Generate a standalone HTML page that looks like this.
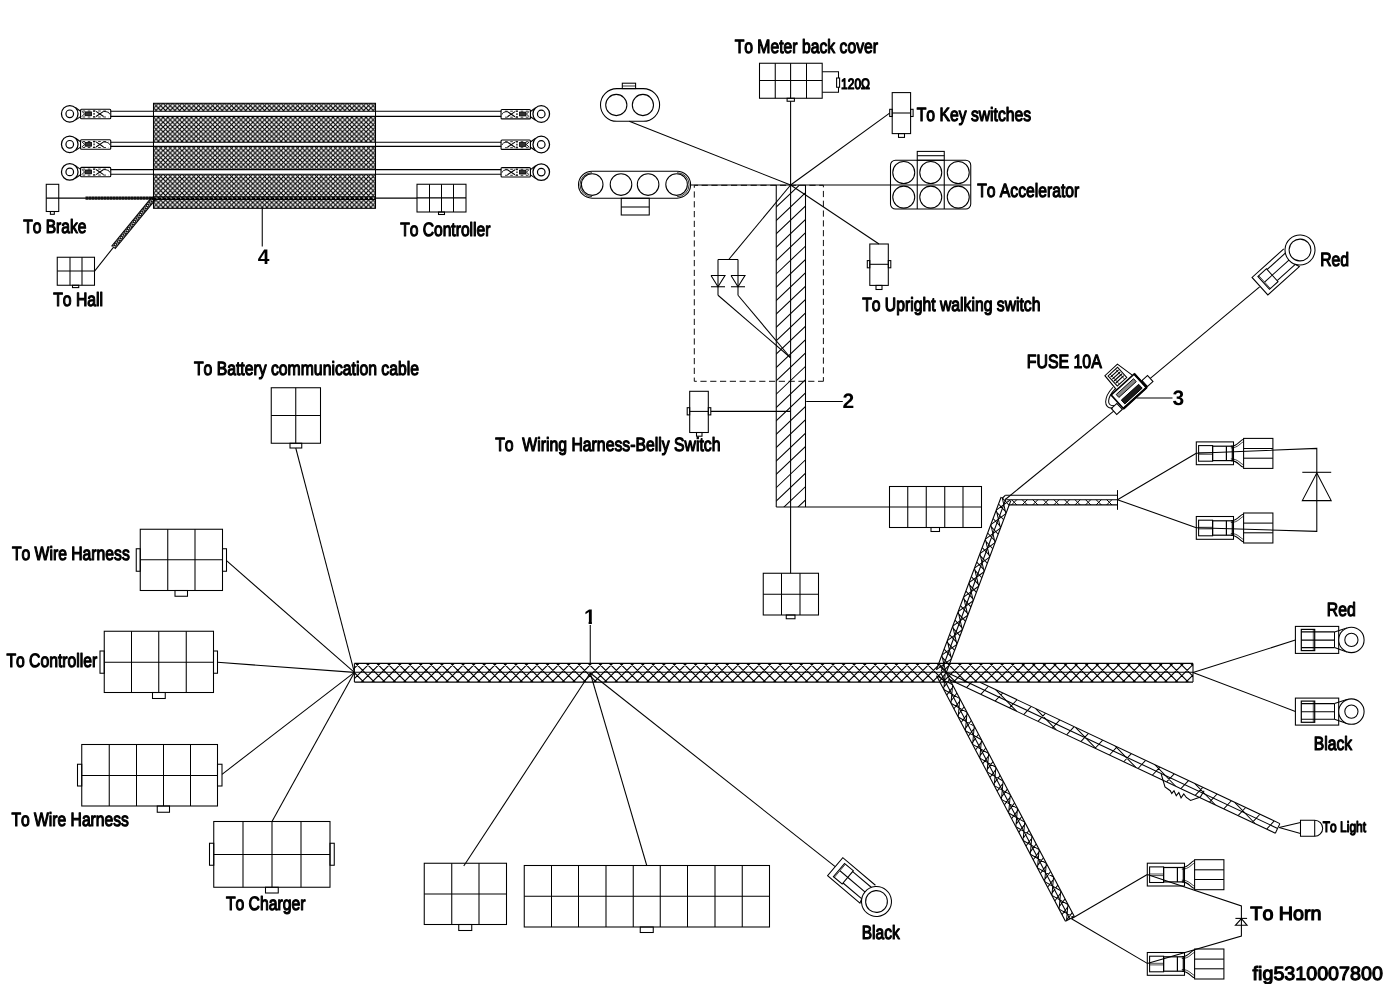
<!DOCTYPE html>
<html lang="en">
<head>
<meta charset="utf-8">
<title>Wiring harness diagram fig5310007800</title>
<style>
html,body{margin:0;padding:0;background:#fff;}
body{width:1399px;height:984px;overflow:hidden;}
svg{display:block;will-change:transform;}
text{font-family:"Liberation Sans",sans-serif;fill:#000;stroke-linejoin:round;font-kerning:none;text-rendering:geometricPrecision;white-space:pre;}
</style>
</head>
<body>
<svg width="1399" height="984" viewBox="0 0 1399 984" role="img" aria-label="Wiring harness diagram">
<defs>
<pattern id="xh" width="4.72" height="4.72" patternUnits="userSpaceOnUse" x="163.1" y="108.1"><path d="M-1 -1L5.72 5.72M-1 5.72L5.72 -1" stroke="#000" stroke-width="1.15" fill="none"/></pattern><clipPath id="c1"><rect x="0" y="-2.15" width="63.52" height="4.30"/></clipPath><clipPath id="barclip"><rect x="776.25" y="185" width="29.25" height="322"/></clipPath><clipPath id="c2"><rect x="354.40" y="663.40" width="838.60" height="18.70"/></clipPath><clipPath id="c3"><rect x="0" y="-5.15" width="184.46" height="10.30"/></clipPath><clipPath id="c4"><rect x="1008.5" y="499.7" width="109" height="5.2"/></clipPath><clipPath id="c5"><rect x="0" y="-5.00" width="277.19" height="10.00"/></clipPath><clipPath id="c6"><path d="M34 -5.30H365.47V5.30H4Z"/></clipPath><clipPath id="one"><path d="M0 -20H12V-3.4H7.9V1H4.6V-3.4H0Z"/></clipPath>
</defs>
<g fill="none" stroke="#000" stroke-width="1.06">
<rect x="153.50" y="103.30" width="222.00" height="105.00" fill="url(#xh)"/>
<rect x="154.00" y="111.25" width="221.00" height="5.15" fill="#fff" stroke="none"/>
<line x1="110.60" y1="111.25" x2="501.20" y2="111.25"/>
<line x1="110.60" y1="116.40" x2="501.20" y2="116.40"/>
<rect x="154.00" y="142.20" width="221.00" height="4.20" fill="#fff" stroke="none"/>
<line x1="110.60" y1="142.20" x2="501.20" y2="142.20"/>
<line x1="110.60" y1="146.40" x2="501.20" y2="146.40"/>
<rect x="154.00" y="169.60" width="221.00" height="4.70" fill="#fff" stroke="none"/>
<line x1="110.60" y1="169.60" x2="501.20" y2="169.60"/>
<line x1="110.60" y1="174.30" x2="501.20" y2="174.30"/>
<line x1="153.50" y1="196.90" x2="375.50" y2="196.90" stroke-width="1.0"/>
<line x1="153.50" y1="199.50" x2="375.50" y2="199.50" stroke-width="1.0"/>
<line x1="153.50" y1="198.20" x2="375.50" y2="198.20" stroke-width="1.4" stroke-dasharray="3 1.7"/>
<path d="M75.35 107.50 L80.55 111.30" stroke-width="1.1"/>
<path d="M75.35 120.10 L80.55 116.60" stroke-width="1.1"/>
<circle cx="69.75" cy="113.80" r="8.30" stroke-width="1.25" fill="#fff"/>
<circle cx="69.75" cy="113.80" r="3.80" stroke-width="1.2"/>
<rect x="80.55" y="109.30" width="30.20" height="9.40" rx="1" stroke-width="1.1"/>
<line x1="94.05" y1="110.30" x2="94.05" y2="117.70" stroke-width="1.2" stroke-dasharray="1.6 1.2"/>
<path d="M96.05 111.40 L103.55 116.50" stroke-width="1.1"/>
<path d="M96.05 116.50 L103.55 111.40" stroke-width="1.1"/>
<path d="M103.55 111.40Q109.25 111.60 109.75 114.30" stroke-width="0.9"/>
<rect x="85.05" y="111.90" width="6.50" height="3.80" stroke-width="0.8" fill="#333"/>
<path d="M81.75 111.20 L84.55 113.80 L81.75 116.60" stroke-width="0.9"/>
<line x1="82.55" y1="111.00" x2="108.75" y2="111.00" stroke-width="0.8" stroke-dasharray="2.6 2.6"/>
<line x1="82.55" y1="117.00" x2="108.75" y2="117.00" stroke-width="0.8" stroke-dasharray="2.6 2.6"/>
<path d="M535.65 107.70 L530.45 111.50" stroke-width="1.1"/>
<path d="M535.65 120.30 L530.45 116.80" stroke-width="1.1"/>
<circle cx="541.25" cy="114.00" r="8.30" stroke-width="1.25" fill="#fff"/>
<circle cx="541.25" cy="114.00" r="3.80" stroke-width="1.2"/>
<rect x="501.05" y="109.50" width="29.40" height="9.40" rx="1" stroke-width="1.1"/>
<line x1="516.95" y1="110.50" x2="516.95" y2="117.90" stroke-width="1.2" stroke-dasharray="1.6 1.2"/>
<path d="M514.95 111.60 L507.45 116.70" stroke-width="1.1"/>
<path d="M514.95 116.70 L507.45 111.60" stroke-width="1.1"/>
<path d="M507.45 111.60Q502.55 111.80 502.05 114.50" stroke-width="0.9"/>
<rect x="519.45" y="112.10" width="6.50" height="3.80" stroke-width="0.8" fill="#333"/>
<path d="M529.25 111.40 L526.45 114.00 L529.25 116.80" stroke-width="0.9"/>
<line x1="528.45" y1="111.20" x2="503.05" y2="111.20" stroke-width="0.8" stroke-dasharray="2.6 2.6"/>
<line x1="528.45" y1="117.20" x2="503.05" y2="117.20" stroke-width="0.8" stroke-dasharray="2.6 2.6"/>
<path d="M75.35 138.00 L80.55 141.80" stroke-width="1.1"/>
<path d="M75.35 150.60 L80.55 147.10" stroke-width="1.1"/>
<circle cx="69.75" cy="144.30" r="8.30" stroke-width="1.25" fill="#fff"/>
<circle cx="69.75" cy="144.30" r="3.80" stroke-width="1.2"/>
<rect x="80.55" y="139.80" width="30.20" height="9.40" rx="1" stroke-width="1.1"/>
<line x1="94.05" y1="140.80" x2="94.05" y2="148.20" stroke-width="1.2" stroke-dasharray="1.6 1.2"/>
<path d="M96.05 141.90 L103.55 147.00" stroke-width="1.1"/>
<path d="M96.05 147.00 L103.55 141.90" stroke-width="1.1"/>
<path d="M103.55 141.90Q109.25 142.10 109.75 144.80" stroke-width="0.9"/>
<rect x="85.05" y="142.40" width="6.50" height="3.80" stroke-width="0.8" fill="#333"/>
<path d="M81.75 141.70 L84.55 144.30 L81.75 147.10" stroke-width="0.9"/>
<line x1="82.55" y1="141.50" x2="108.75" y2="141.50" stroke-width="0.8" stroke-dasharray="2.6 2.6"/>
<line x1="82.55" y1="147.50" x2="108.75" y2="147.50" stroke-width="0.8" stroke-dasharray="2.6 2.6"/>
<path d="M535.65 138.20 L530.45 142.00" stroke-width="1.1"/>
<path d="M535.65 150.80 L530.45 147.30" stroke-width="1.1"/>
<circle cx="541.25" cy="144.50" r="8.30" stroke-width="1.25" fill="#fff"/>
<circle cx="541.25" cy="144.50" r="3.80" stroke-width="1.2"/>
<rect x="501.05" y="140.00" width="29.40" height="9.40" rx="1" stroke-width="1.1"/>
<line x1="516.95" y1="141.00" x2="516.95" y2="148.40" stroke-width="1.2" stroke-dasharray="1.6 1.2"/>
<path d="M514.95 142.10 L507.45 147.20" stroke-width="1.1"/>
<path d="M514.95 147.20 L507.45 142.10" stroke-width="1.1"/>
<path d="M507.45 142.10Q502.55 142.30 502.05 145.00" stroke-width="0.9"/>
<rect x="519.45" y="142.60" width="6.50" height="3.80" stroke-width="0.8" fill="#333"/>
<path d="M529.25 141.90 L526.45 144.50 L529.25 147.30" stroke-width="0.9"/>
<line x1="528.45" y1="141.70" x2="503.05" y2="141.70" stroke-width="0.8" stroke-dasharray="2.6 2.6"/>
<line x1="528.45" y1="147.70" x2="503.05" y2="147.70" stroke-width="0.8" stroke-dasharray="2.6 2.6"/>
<path d="M75.35 165.60 L80.55 169.40" stroke-width="1.1"/>
<path d="M75.35 178.20 L80.55 174.70" stroke-width="1.1"/>
<circle cx="69.75" cy="171.90" r="8.30" stroke-width="1.25" fill="#fff"/>
<circle cx="69.75" cy="171.90" r="3.80" stroke-width="1.2"/>
<rect x="80.55" y="167.40" width="30.20" height="9.40" rx="1" stroke-width="1.1"/>
<line x1="94.05" y1="168.40" x2="94.05" y2="175.80" stroke-width="1.2" stroke-dasharray="1.6 1.2"/>
<path d="M96.05 169.50 L103.55 174.60" stroke-width="1.1"/>
<path d="M96.05 174.60 L103.55 169.50" stroke-width="1.1"/>
<path d="M103.55 169.50Q109.25 169.70 109.75 172.40" stroke-width="0.9"/>
<rect x="85.05" y="170.00" width="6.50" height="3.80" stroke-width="0.8" fill="#333"/>
<path d="M81.75 169.30 L84.55 171.90 L81.75 174.70" stroke-width="0.9"/>
<line x1="82.55" y1="169.10" x2="108.75" y2="169.10" stroke-width="0.8" stroke-dasharray="2.6 2.6"/>
<line x1="82.55" y1="175.10" x2="108.75" y2="175.10" stroke-width="0.8" stroke-dasharray="2.6 2.6"/>
<path d="M535.65 165.80 L530.45 169.60" stroke-width="1.1"/>
<path d="M535.65 178.40 L530.45 174.90" stroke-width="1.1"/>
<circle cx="541.25" cy="172.10" r="8.30" stroke-width="1.25" fill="#fff"/>
<circle cx="541.25" cy="172.10" r="3.80" stroke-width="1.2"/>
<rect x="501.05" y="167.60" width="29.40" height="9.40" rx="1" stroke-width="1.1"/>
<line x1="516.95" y1="168.60" x2="516.95" y2="176.00" stroke-width="1.2" stroke-dasharray="1.6 1.2"/>
<path d="M514.95 169.70 L507.45 174.80" stroke-width="1.1"/>
<path d="M514.95 174.80 L507.45 169.70" stroke-width="1.1"/>
<path d="M507.45 169.70Q502.55 169.90 502.05 172.60" stroke-width="0.9"/>
<rect x="519.45" y="170.20" width="6.50" height="3.80" stroke-width="0.8" fill="#333"/>
<path d="M529.25 169.50 L526.45 172.10 L529.25 174.90" stroke-width="0.9"/>
<line x1="528.45" y1="169.30" x2="503.05" y2="169.30" stroke-width="0.8" stroke-dasharray="2.6 2.6"/>
<line x1="528.45" y1="175.30" x2="503.05" y2="175.30" stroke-width="0.8" stroke-dasharray="2.6 2.6"/>
<rect x="46.25" y="184.30" width="12.50" height="27.20"/>
<rect x="50.40" y="211.50" width="3.90" height="2.80"/>
<line x1="46.25" y1="198.10" x2="153.00" y2="198.10"/>
<line x1="85.50" y1="198.10" x2="153.00" y2="198.10" stroke-width="3.4" stroke-dasharray="2.7 0.3" stroke="#111"/>
<g transform="translate(153.50 198.50) rotate(129.378)">
<g clip-path="url(#c1)">
<path d="M-9.20 -2.15L-6.90 2.15M-9.20 2.15L-6.90 -2.15M-6.90 -2.15L-4.60 2.15M-6.90 2.15L-4.60 -2.15M-4.60 -2.15L-2.30 2.15M-4.60 2.15L-2.30 -2.15M-2.30 -2.15L0.00 2.15M-2.30 2.15L0.00 -2.15M0.00 -2.15L2.30 2.15M0.00 2.15L2.30 -2.15M2.30 -2.15L4.60 2.15M2.30 2.15L4.60 -2.15M4.60 -2.15L6.90 2.15M4.60 2.15L6.90 -2.15M6.90 -2.15L9.20 2.15M6.90 2.15L9.20 -2.15M9.20 -2.15L11.50 2.15M9.20 2.15L11.50 -2.15M11.50 -2.15L13.80 2.15M11.50 2.15L13.80 -2.15M13.80 -2.15L16.10 2.15M13.80 2.15L16.10 -2.15M16.10 -2.15L18.40 2.15M16.10 2.15L18.40 -2.15M18.40 -2.15L20.70 2.15M18.40 2.15L20.70 -2.15M20.70 -2.15L23.00 2.15M20.70 2.15L23.00 -2.15M23.00 -2.15L25.30 2.15M23.00 2.15L25.30 -2.15M25.30 -2.15L27.60 2.15M25.30 2.15L27.60 -2.15M27.60 -2.15L29.90 2.15M27.60 2.15L29.90 -2.15M29.90 -2.15L32.20 2.15M29.90 2.15L32.20 -2.15M32.20 -2.15L34.50 2.15M32.20 2.15L34.50 -2.15M34.50 -2.15L36.80 2.15M34.50 2.15L36.80 -2.15M36.80 -2.15L39.10 2.15M36.80 2.15L39.10 -2.15M39.10 -2.15L41.40 2.15M39.10 2.15L41.40 -2.15M41.40 -2.15L43.70 2.15M41.40 2.15L43.70 -2.15M43.70 -2.15L46.00 2.15M43.70 2.15L46.00 -2.15M46.00 -2.15L48.30 2.15M46.00 2.15L48.30 -2.15M48.30 -2.15L50.60 2.15M48.30 2.15L50.60 -2.15M50.60 -2.15L52.90 2.15M50.60 2.15L52.90 -2.15M52.90 -2.15L55.20 2.15M52.90 2.15L55.20 -2.15M55.20 -2.15L57.50 2.15M55.20 2.15L57.50 -2.15M57.50 -2.15L59.80 2.15M57.50 2.15L59.80 -2.15M59.80 -2.15L62.10 2.15M59.80 2.15L62.10 -2.15M62.10 -2.15L64.40 2.15M62.10 2.15L64.40 -2.15M64.40 -2.15L66.70 2.15M64.40 2.15L66.70 -2.15M66.70 -2.15L69.00 2.15M66.70 2.15L69.00 -2.15M69.00 -2.15L71.30 2.15M69.00 2.15L71.30 -2.15M71.30 -2.15L73.60 2.15M71.30 2.15L73.60 -2.15M73.60 -2.15L75.90 2.15M73.60 2.15L75.90 -2.15" stroke-width="0.8"/>
</g>
<line x1="0.00" y1="-2.15" x2="63.52" y2="-2.15"/>
<line x1="0.00" y1="2.15" x2="63.52" y2="2.15"/>
</g>
<line x1="113.20" y1="247.60" x2="94.40" y2="271.30"/>
<rect x="57.25" y="257.25" width="37.25" height="28.00"/>
<line x1="70.00" y1="257.25" x2="70.00" y2="285.25"/>
<line x1="82.00" y1="257.25" x2="82.00" y2="285.25"/>
<line x1="57.25" y1="271.00" x2="94.50" y2="271.00"/>
<rect x="72.50" y="285.25" width="6.25" height="2.35"/>
<line x1="375.50" y1="198.10" x2="417.00" y2="198.10"/>
<rect x="417.00" y="184.25" width="49.00" height="27.75"/>
<line x1="429.50" y1="184.25" x2="429.50" y2="212.00"/>
<line x1="441.50" y1="184.25" x2="441.50" y2="212.00"/>
<line x1="453.50" y1="184.25" x2="453.50" y2="212.00"/>
<line x1="417.00" y1="197.90" x2="466.00" y2="197.90"/>
<rect x="438.50" y="212.00" width="6.00" height="2.50"/>
<line x1="262.25" y1="208.30" x2="262.25" y2="246.50"/>
<rect x="600.5" y="88.6" width="59.1" height="32.7" rx="16.35" ry="16.35"/>
<circle cx="616.30" cy="105.00" r="10.60"/>
<circle cx="642.90" cy="105.00" r="10.60"/>
<rect x="622.30" y="83.20" width="13.30" height="5.40"/>
<line x1="622.30" y1="86.00" x2="635.60" y2="86.00" stroke-width="0.8"/>
<line x1="629.25" y1="121.25" x2="790.60" y2="185.00"/>
<rect x="578.5" y="171.2" width="112.1" height="27" rx="13.5" ry="13.5"/>
<path d="M592 172.7A12 12 0 0 0 592 196.7M677.1 172.7A12 12 0 0 1 677.1 196.7" stroke-width="0.8"/>
<circle cx="592.20" cy="184.60" r="10.80"/>
<circle cx="621.00" cy="184.60" r="10.80"/>
<circle cx="648.10" cy="184.60" r="10.80"/>
<circle cx="676.60" cy="184.60" r="10.80"/>
<rect x="621.25" y="198.25" width="28.00" height="16.75"/>
<line x1="621.25" y1="207.00" x2="649.25" y2="207.00"/>
<line x1="690.50" y1="185.00" x2="890.50" y2="185.00"/>
<rect x="759.50" y="63.25" width="62.70" height="35.00"/>
<line x1="775.25" y1="63.25" x2="775.25" y2="98.25"/>
<line x1="790.60" y1="63.25" x2="790.60" y2="98.25"/>
<line x1="806.50" y1="63.25" x2="806.50" y2="98.25"/>
<line x1="759.50" y1="80.50" x2="822.20" y2="80.50"/>
<rect x="787.10" y="98.25" width="7.30" height="3.00"/>
<path d="M822.25 71.75 L838.50 71.75 L838.50 92.25 L822.25 92.25"/>
<rect x="836.60" y="78.00" width="3.00" height="9.25" fill="#fff"/>
<line x1="790.60" y1="101.25" x2="790.60" y2="185.00"/>
<rect x="892.20" y="92.60" width="18.40" height="41.00"/>
<line x1="892.20" y1="113.00" x2="910.60" y2="113.00"/>
<rect x="889.70" y="109.30" width="2.50" height="7.20"/>
<rect x="910.60" y="109.30" width="2.50" height="7.20"/>
<rect x="898.50" y="133.60" width="6.00" height="3.80"/>
<line x1="790.60" y1="185.00" x2="889.60" y2="113.10"/>
<rect x="890.5" y="160.25" width="80.25" height="48.75" rx="5" ry="5"/>
<rect x="917.25" y="151.40" width="27.00" height="8.85"/>
<line x1="917.25" y1="155.70" x2="944.25" y2="155.70"/>
<line x1="917.25" y1="160.25" x2="917.25" y2="209.00"/>
<line x1="944.25" y1="160.25" x2="944.25" y2="209.00"/>
<line x1="890.50" y1="185.00" x2="970.75" y2="185.00"/>
<circle cx="903.75" cy="172.50" r="11.00"/>
<circle cx="903.75" cy="197.10" r="11.00"/>
<circle cx="930.75" cy="172.50" r="11.00"/>
<circle cx="930.75" cy="197.10" r="11.00"/>
<circle cx="958.25" cy="172.50" r="11.00"/>
<circle cx="958.25" cy="197.10" r="11.00"/>
<rect x="869.80" y="244.00" width="18.50" height="41.40"/>
<line x1="869.80" y1="264.30" x2="888.30" y2="264.30"/>
<rect x="867.30" y="260.60" width="2.50" height="7.20"/>
<rect x="888.30" y="260.60" width="2.50" height="7.20"/>
<rect x="876.00" y="285.40" width="6.00" height="4.10"/>
<line x1="790.60" y1="185.00" x2="879.00" y2="244.00"/>
<path d="M823.4 381.3V185.3H694.3V381.3Z" stroke-dasharray="6.2 3.6" stroke-dashoffset="2" stroke-width="0.95"/>
<g clip-path="url(#barclip)">
<path d="M765.40 217.40L810.40 174.65M765.40 230.76L810.40 188.01M765.40 244.12L810.40 201.37M765.40 257.48L810.40 214.73M765.40 270.84L810.40 228.09M765.40 284.20L810.40 241.45M765.40 297.56L810.40 254.81M765.40 310.92L810.40 268.17M765.40 324.28L810.40 281.53M765.40 337.64L810.40 294.89M765.40 351.00L810.40 308.25M765.40 364.36L810.40 321.61M765.40 377.72L810.40 334.97M765.40 391.08L810.40 348.33M765.40 404.44L810.40 361.69M765.40 417.80L810.40 375.05M765.40 431.16L810.40 388.41M765.40 444.52L810.40 401.77M765.40 457.88L810.40 415.13M765.40 471.24L810.40 428.49M765.40 484.60L810.40 441.85M765.40 497.96L810.40 455.21M765.40 511.32L810.40 468.57M765.40 524.68L810.40 481.93M765.40 538.04L810.40 495.29M765.40 551.40L810.40 508.65M765.40 564.76L810.40 522.01M765.40 578.12L810.40 535.37M765.40 591.48L810.40 548.73"/>
</g>
<line x1="776.25" y1="185.00" x2="776.25" y2="507.00"/>
<line x1="805.50" y1="185.00" x2="805.50" y2="507.00"/>
<line x1="790.60" y1="185.00" x2="790.60" y2="573.25"/>
<line x1="776.25" y1="507.00" x2="889.50" y2="507.00"/>
<line x1="790.60" y1="185.00" x2="728.75" y2="259.50"/>
<line x1="718.00" y1="259.50" x2="738.00" y2="259.50"/>
<line x1="718.00" y1="259.50" x2="718.00" y2="295.25"/>
<path d="M711.00 275.50 L725.00 275.50 L718.00 286.75 L711.00 275.50"/>
<line x1="711.00" y1="286.75" x2="725.00" y2="286.75"/>
<line x1="718.00" y1="295.25" x2="790.30" y2="357.50"/>
<line x1="738.00" y1="259.50" x2="738.00" y2="295.25"/>
<path d="M731.00 275.50 L745.00 275.50 L738.00 286.75 L731.00 275.50"/>
<line x1="731.00" y1="286.75" x2="745.00" y2="286.75"/>
<line x1="738.00" y1="295.25" x2="790.30" y2="357.50"/>
<rect x="689.70" y="391.30" width="18.60" height="41.20"/>
<line x1="689.70" y1="411.40" x2="708.30" y2="411.40"/>
<rect x="687.20" y="407.70" width="2.50" height="7.20"/>
<rect x="708.30" y="407.70" width="2.50" height="7.20"/>
<rect x="696.50" y="432.50" width="5.50" height="3.70"/>
<line x1="710.80" y1="411.40" x2="790.60" y2="411.40"/>
<line x1="806.20" y1="401.50" x2="842.80" y2="401.50"/>
<rect x="889.50" y="486.50" width="92.00" height="41.00"/>
<line x1="907.75" y1="486.50" x2="907.75" y2="527.50"/>
<line x1="926.25" y1="486.50" x2="926.25" y2="527.50"/>
<line x1="944.75" y1="486.50" x2="944.75" y2="527.50"/>
<line x1="963.00" y1="486.50" x2="963.00" y2="527.50"/>
<line x1="889.50" y1="507.00" x2="981.50" y2="507.00"/>
<rect x="931.00" y="527.50" width="8.50" height="4.00"/>
<rect x="763.25" y="573.25" width="55.25" height="41.75"/>
<line x1="781.50" y1="573.25" x2="781.50" y2="615.00"/>
<line x1="800.00" y1="573.25" x2="800.00" y2="615.00"/>
<line x1="763.25" y1="594.25" x2="818.50" y2="594.25"/>
<rect x="786.25" y="615.00" width="8.75" height="3.75"/>
<line x1="295.75" y1="448.00" x2="354.40" y2="672.40"/>
<rect x="271.25" y="387.75" width="49.25" height="55.50"/>
<line x1="295.75" y1="387.75" x2="295.75" y2="443.25"/>
<line x1="271.25" y1="415.50" x2="320.50" y2="415.50"/>
<rect x="290.00" y="443.25" width="11.75" height="4.75"/>
<line x1="226.50" y1="560.70" x2="354.40" y2="672.40"/>
<rect x="140.25" y="529.25" width="82.25" height="61.25"/>
<line x1="167.75" y1="529.25" x2="167.75" y2="590.50"/>
<line x1="195.00" y1="529.25" x2="195.00" y2="590.50"/>
<line x1="140.25" y1="559.75" x2="222.50" y2="559.75"/>
<rect x="175.00" y="590.50" width="12.50" height="5.75"/>
<rect x="136.25" y="548.75" width="4.00" height="22.50"/>
<rect x="222.50" y="548.75" width="4.00" height="22.50"/>
<line x1="217.50" y1="662.30" x2="354.40" y2="672.40"/>
<rect x="104.25" y="631.25" width="109.25" height="61.25"/>
<line x1="131.50" y1="631.25" x2="131.50" y2="692.50"/>
<line x1="158.75" y1="631.25" x2="158.75" y2="692.50"/>
<line x1="186.25" y1="631.25" x2="186.25" y2="692.50"/>
<line x1="104.25" y1="662.25" x2="213.50" y2="662.25"/>
<rect x="152.50" y="692.50" width="12.75" height="6.00"/>
<rect x="100.00" y="651.00" width="4.25" height="22.25"/>
<rect x="213.50" y="651.00" width="4.00" height="22.25"/>
<line x1="222.00" y1="774.30" x2="354.40" y2="672.40"/>
<rect x="81.75" y="744.50" width="135.75" height="61.50"/>
<line x1="109.25" y1="744.50" x2="109.25" y2="806.00"/>
<line x1="136.50" y1="744.50" x2="136.50" y2="806.00"/>
<line x1="163.50" y1="744.50" x2="163.50" y2="806.00"/>
<line x1="190.50" y1="744.50" x2="190.50" y2="806.00"/>
<line x1="81.75" y1="775.50" x2="217.50" y2="775.50"/>
<rect x="157.25" y="806.00" width="12.25" height="6.25"/>
<rect x="77.50" y="764.25" width="4.25" height="21.75"/>
<rect x="217.50" y="764.25" width="4.50" height="21.75"/>
<line x1="272.00" y1="821.50" x2="354.40" y2="672.40"/>
<rect x="213.75" y="821.50" width="116.25" height="65.75"/>
<line x1="243.00" y1="821.50" x2="243.00" y2="887.25"/>
<line x1="272.00" y1="821.50" x2="272.00" y2="887.25"/>
<line x1="301.00" y1="821.50" x2="301.00" y2="887.25"/>
<line x1="213.75" y1="854.50" x2="330.00" y2="854.50"/>
<rect x="265.50" y="887.25" width="12.75" height="5.75"/>
<rect x="209.50" y="843.25" width="4.25" height="22.00"/>
<rect x="330.00" y="843.25" width="4.25" height="22.00"/>
<path clip-path="url(#c2)" d="M301.80 662.40L322.50 683.10M307.20 662.40L286.50 683.10M312.37 662.40L333.07 683.10M317.77 662.40L297.07 683.10M322.94 662.40L343.64 683.10M328.34 662.40L307.64 683.10M333.51 662.40L354.21 683.10M338.91 662.40L318.21 683.10M344.08 662.40L364.78 683.10M349.48 662.40L328.78 683.10M354.65 662.40L375.35 683.10M360.05 662.40L339.35 683.10M365.22 662.40L385.92 683.10M370.62 662.40L349.92 683.10M375.79 662.40L396.49 683.10M381.19 662.40L360.49 683.10M386.36 662.40L407.06 683.10M391.76 662.40L371.06 683.10M396.93 662.40L417.63 683.10M402.33 662.40L381.63 683.10M407.50 662.40L428.20 683.10M412.90 662.40L392.20 683.10M418.07 662.40L438.77 683.10M423.47 662.40L402.77 683.10M428.64 662.40L449.34 683.10M434.04 662.40L413.34 683.10M439.21 662.40L459.91 683.10M444.61 662.40L423.91 683.10M449.78 662.40L470.48 683.10M455.18 662.40L434.48 683.10M460.35 662.40L481.05 683.10M465.75 662.40L445.05 683.10M470.92 662.40L491.62 683.10M476.32 662.40L455.62 683.10M481.49 662.40L502.19 683.10M486.89 662.40L466.19 683.10M492.06 662.40L512.76 683.10M497.46 662.40L476.76 683.10M502.63 662.40L523.33 683.10M508.03 662.40L487.33 683.10M513.20 662.40L533.90 683.10M518.60 662.40L497.90 683.10M523.77 662.40L544.47 683.10M529.17 662.40L508.47 683.10M534.34 662.40L555.04 683.10M539.74 662.40L519.04 683.10M544.91 662.40L565.61 683.10M550.31 662.40L529.61 683.10M555.48 662.40L576.18 683.10M560.88 662.40L540.18 683.10M566.05 662.40L586.75 683.10M571.45 662.40L550.75 683.10M576.62 662.40L597.32 683.10M582.02 662.40L561.32 683.10M587.19 662.40L607.89 683.10M592.59 662.40L571.89 683.10M597.76 662.40L618.46 683.10M603.16 662.40L582.46 683.10M608.33 662.40L629.03 683.10M613.73 662.40L593.03 683.10M618.90 662.40L639.60 683.10M624.30 662.40L603.60 683.10M629.47 662.40L650.17 683.10M634.87 662.40L614.17 683.10M640.04 662.40L660.74 683.10M645.44 662.40L624.74 683.10M650.61 662.40L671.31 683.10M656.01 662.40L635.31 683.10M661.18 662.40L681.88 683.10M666.58 662.40L645.88 683.10M671.75 662.40L692.45 683.10M677.15 662.40L656.45 683.10M682.32 662.40L703.02 683.10M687.72 662.40L667.02 683.10M692.89 662.40L713.59 683.10M698.29 662.40L677.59 683.10M703.46 662.40L724.16 683.10M708.86 662.40L688.16 683.10M714.03 662.40L734.73 683.10M719.43 662.40L698.73 683.10M724.60 662.40L745.30 683.10M730.00 662.40L709.30 683.10M735.17 662.40L755.87 683.10M740.57 662.40L719.87 683.10M745.74 662.40L766.44 683.10M751.14 662.40L730.44 683.10M756.31 662.40L777.01 683.10M761.71 662.40L741.01 683.10M766.88 662.40L787.58 683.10M772.28 662.40L751.58 683.10M777.45 662.40L798.15 683.10M782.85 662.40L762.15 683.10M788.02 662.40L808.72 683.10M793.42 662.40L772.72 683.10M798.59 662.40L819.29 683.10M803.99 662.40L783.29 683.10M809.16 662.40L829.86 683.10M814.56 662.40L793.86 683.10M819.73 662.40L840.43 683.10M825.13 662.40L804.43 683.10M830.30 662.40L851.00 683.10M835.70 662.40L815.00 683.10M840.87 662.40L861.57 683.10M846.27 662.40L825.57 683.10M851.44 662.40L872.14 683.10M856.84 662.40L836.14 683.10M862.01 662.40L882.71 683.10M867.41 662.40L846.71 683.10M872.58 662.40L893.28 683.10M877.98 662.40L857.28 683.10M883.15 662.40L903.85 683.10M888.55 662.40L867.85 683.10M893.72 662.40L914.42 683.10M899.12 662.40L878.42 683.10M904.29 662.40L924.99 683.10M909.69 662.40L888.99 683.10M914.86 662.40L935.56 683.10M920.26 662.40L899.56 683.10M925.43 662.40L946.13 683.10M930.83 662.40L910.13 683.10M936.00 662.40L956.70 683.10M941.40 662.40L920.70 683.10M946.57 662.40L967.27 683.10M951.97 662.40L931.27 683.10M957.14 662.40L977.84 683.10M962.54 662.40L941.84 683.10M967.71 662.40L988.41 683.10M973.11 662.40L952.41 683.10M978.28 662.40L998.98 683.10M983.68 662.40L962.98 683.10M988.85 662.40L1009.55 683.10M994.25 662.40L973.55 683.10M999.42 662.40L1020.12 683.10M1004.82 662.40L984.12 683.10M1009.99 662.40L1030.69 683.10M1015.39 662.40L994.69 683.10M1020.56 662.40L1041.26 683.10M1025.96 662.40L1005.26 683.10M1031.13 662.40L1051.83 683.10M1036.53 662.40L1015.83 683.10M1041.70 662.40L1062.40 683.10M1047.10 662.40L1026.40 683.10M1052.27 662.40L1072.97 683.10M1057.67 662.40L1036.97 683.10M1062.84 662.40L1083.54 683.10M1068.24 662.40L1047.54 683.10M1073.41 662.40L1094.11 683.10M1078.81 662.40L1058.11 683.10M1083.98 662.40L1104.68 683.10M1089.38 662.40L1068.68 683.10M1094.55 662.40L1115.25 683.10M1099.95 662.40L1079.25 683.10M1105.12 662.40L1125.82 683.10M1110.52 662.40L1089.82 683.10M1115.69 662.40L1136.39 683.10M1121.09 662.40L1100.39 683.10M1126.26 662.40L1146.96 683.10M1131.66 662.40L1110.96 683.10M1136.83 662.40L1157.53 683.10M1142.23 662.40L1121.53 683.10M1147.40 662.40L1168.10 683.10M1152.80 662.40L1132.10 683.10M1157.97 662.40L1178.67 683.10M1163.37 662.40L1142.67 683.10M1168.54 662.40L1189.24 683.10M1173.94 662.40L1153.24 683.10M1179.11 662.40L1199.81 683.10M1184.51 662.40L1163.81 683.10M1189.68 662.40L1210.38 683.10M1195.08 662.40L1174.38 683.10M1200.25 662.40L1220.95 683.10M1205.65 662.40L1184.95 683.10M1210.82 662.40L1231.52 683.10M1216.22 662.40L1195.52 683.10M1221.39 662.40L1242.09 683.10M1226.79 662.40L1206.09 683.10M1231.96 662.40L1252.66 683.10M1237.36 662.40L1216.66 683.10M1242.53 662.40L1263.23 683.10M1247.93 662.40L1227.23 683.10" stroke-width="1.15"/>
<line x1="354.40" y1="663.40" x2="1193.00" y2="663.40" stroke-width="1.1"/>
<line x1="354.40" y1="682.10" x2="1193.00" y2="682.10" stroke-width="1.1"/>
<line x1="354.40" y1="672.30" x2="1193.00" y2="672.30"/>
<line x1="354.40" y1="663.40" x2="354.40" y2="682.10"/>
<line x1="1193.00" y1="663.40" x2="1193.00" y2="682.10"/>
<line x1="590.25" y1="625.00" x2="590.25" y2="663.40"/>
<line x1="590.25" y1="673.00" x2="463.75" y2="866.00"/>
<line x1="590.25" y1="673.00" x2="646.75" y2="865.50"/>
<line x1="590.25" y1="673.00" x2="835.20" y2="866.70"/>
<rect x="424.25" y="863.25" width="82.25" height="61.25"/>
<line x1="451.75" y1="863.25" x2="451.75" y2="924.50"/>
<line x1="479.00" y1="863.25" x2="479.00" y2="924.50"/>
<line x1="424.25" y1="894.00" x2="506.50" y2="894.00"/>
<rect x="458.75" y="924.50" width="13.00" height="6.00"/>
<rect x="524.25" y="865.50" width="245.25" height="61.50"/>
<line x1="551.50" y1="865.50" x2="551.50" y2="927.00"/>
<line x1="578.50" y1="865.50" x2="578.50" y2="927.00"/>
<line x1="606.00" y1="865.50" x2="606.00" y2="927.00"/>
<line x1="633.25" y1="865.50" x2="633.25" y2="927.00"/>
<line x1="660.25" y1="865.50" x2="660.25" y2="927.00"/>
<line x1="687.50" y1="865.50" x2="687.50" y2="927.00"/>
<line x1="715.00" y1="865.50" x2="715.00" y2="927.00"/>
<line x1="742.25" y1="865.50" x2="742.25" y2="927.00"/>
<line x1="524.25" y1="896.25" x2="769.50" y2="896.25"/>
<rect x="640.25" y="927.00" width="13.00" height="5.50"/>
<g transform="translate(876.50 901.50) rotate(40.20)">
<path d="M-11.3 -11.7H-54.0V11.9H-11.6L-13.3 6.8"/>
<rect x="-49.00" y="-8.50" width="11.50" height="17.30"/>
<line x1="-47.80" y1="-8.50" x2="-47.80" y2="8.80" stroke-width="0.7"/>
<line x1="-37.50" y1="-7.50" x2="-10.50" y2="-7.50"/>
<line x1="-37.50" y1="7.50" x2="-10.50" y2="7.50"/>
<line x1="-47.80" y1="0.10" x2="-10.50" y2="0.10"/>
<circle cx="0.00" cy="0.00" r="15.00" fill="#fff"/>
<circle cx="0.00" cy="0.00" r="10.90"/>
</g>
<g transform="translate(941.20 671.50) rotate(-69.433)">
<path clip-path="url(#c3)" d="M6.47 -5.15L1.27 5.15M14.22 -5.15L9.03 5.15M21.98 -5.15L16.77 5.15M29.73 -5.15L24.52 5.15M37.48 -5.15L32.27 5.15M45.23 -5.15L40.02 5.15M52.98 -5.15L47.77 5.15M60.73 -5.15L55.52 5.15M68.47 -5.15L63.27 5.15M76.22 -5.15L71.03 5.15M83.97 -5.15L78.78 5.15M91.72 -5.15L86.53 5.15M99.47 -5.15L94.28 5.15M107.22 -5.15L102.03 5.15M114.97 -5.15L109.78 5.15M122.72 -5.15L117.53 5.15M130.47 -5.15L125.28 5.15M138.22 -5.15L133.03 5.15M145.97 -5.15L140.78 5.15M153.72 -5.15L148.53 5.15M161.47 -5.15L156.28 5.15M169.22 -5.15L164.03 5.15M176.97 -5.15L171.78 5.15M184.72 -5.15L179.53 5.15M-15.50 5.15L0.00 -5.15M-15.50 -5.15L0.00 5.15M0.00 5.15L15.50 -5.15M0.00 -5.15L15.50 5.15M15.50 5.15L31.00 -5.15M15.50 -5.15L31.00 5.15M31.00 5.15L46.50 -5.15M31.00 -5.15L46.50 5.15M46.50 5.15L62.00 -5.15M46.50 -5.15L62.00 5.15M62.00 5.15L77.50 -5.15M62.00 -5.15L77.50 5.15M77.50 5.15L93.00 -5.15M77.50 -5.15L93.00 5.15M93.00 5.15L108.50 -5.15M93.00 -5.15L108.50 5.15M108.50 5.15L124.00 -5.15M108.50 -5.15L124.00 5.15M124.00 5.15L139.50 -5.15M124.00 -5.15L139.50 5.15M139.50 5.15L155.00 -5.15M139.50 -5.15L155.00 5.15M155.00 5.15L170.50 -5.15M155.00 -5.15L170.50 5.15M170.50 5.15L186.00 -5.15M170.50 -5.15L186.00 5.15M186.00 5.15L201.50 -5.15M186.00 -5.15L201.50 5.15" stroke-width="1.0"/>
<line x1="0.00" y1="-5.15" x2="184.46" y2="-5.15" stroke-width="1.1"/>
<line x1="0.00" y1="5.15" x2="184.46" y2="5.15" stroke-width="1.1"/>
<line x1="0.00" y1="0.00" x2="184.46" y2="0.00"/>
</g>
<line x1="1005.50" y1="495.20" x2="1117.50" y2="495.20"/>
<line x1="1006.50" y1="499.70" x2="1117.50" y2="499.70"/>
<line x1="1008.50" y1="504.90" x2="1117.50" y2="504.90"/>
<path d="M1000.00 498.7L1007.20 505.9M1007.20 498.7L1000.00 505.9M1010.57 498.7L1017.77 505.9M1017.77 498.7L1010.57 505.9M1021.14 498.7L1028.34 505.9M1028.34 498.7L1021.14 505.9M1031.71 498.7L1038.91 505.9M1038.91 498.7L1031.71 505.9M1042.28 498.7L1049.48 505.9M1049.48 498.7L1042.28 505.9M1052.85 498.7L1060.05 505.9M1060.05 498.7L1052.85 505.9M1063.42 498.7L1070.62 505.9M1070.62 498.7L1063.42 505.9M1073.99 498.7L1081.19 505.9M1081.19 498.7L1073.99 505.9M1084.56 498.7L1091.76 505.9M1091.76 498.7L1084.56 505.9M1095.13 498.7L1102.33 505.9M1102.33 498.7L1095.13 505.9M1105.70 498.7L1112.90 505.9M1112.90 498.7L1105.70 505.9M1116.27 498.7L1123.47 505.9M1123.47 498.7L1116.27 505.9" stroke-width="1.0" clip-path="url(#c4)"/>
<path d="M1002.00 498.50 L1005.50 495.20"/>
<line x1="1117.50" y1="490.10" x2="1117.50" y2="509.80"/>
<rect x="1196.30" y="441.90" width="37.20" height="22.80"/>
<rect x="1198.60" y="445.60" width="14.00" height="15.60"/>
<rect x="1212.60" y="446.20" width="19.70" height="14.40" stroke-width="1.2"/>
<line x1="1226.40" y1="446.20" x2="1226.40" y2="460.60" stroke-width="1.2"/>
<line x1="1198.60" y1="452.70" x2="1212.60" y2="452.70" stroke-width="0.7"/>
<line x1="1198.60" y1="454.30" x2="1212.60" y2="454.30" stroke-width="0.7"/>
<path d="M1230.80 446.20C1238.30 446.20 1239.30 440.30 1243.60 439.30"/>
<path d="M1230.80 447.90C1238.30 447.90 1240.30 442.80 1243.60 441.80" stroke-width="0.8"/>
<path d="M1230.80 460.60C1238.30 460.60 1239.30 466.30 1243.60 467.30"/>
<path d="M1230.80 458.90C1238.30 458.90 1240.30 463.80 1243.60 464.80" stroke-width="0.8"/>
<rect x="1243.60" y="438.40" width="29.30" height="30.00"/>
<line x1="1243.60" y1="448.50" x2="1272.90" y2="448.50"/>
<line x1="1243.60" y1="458.20" x2="1272.90" y2="458.20"/>
<rect x="1196.30" y="516.50" width="37.20" height="22.80"/>
<rect x="1198.60" y="520.20" width="14.00" height="15.60"/>
<rect x="1212.60" y="520.80" width="19.70" height="14.40" stroke-width="1.2"/>
<line x1="1226.40" y1="520.80" x2="1226.40" y2="535.20" stroke-width="1.2"/>
<line x1="1198.60" y1="527.30" x2="1212.60" y2="527.30" stroke-width="0.7"/>
<line x1="1198.60" y1="528.90" x2="1212.60" y2="528.90" stroke-width="0.7"/>
<path d="M1230.80 520.80C1238.30 520.80 1239.30 514.90 1243.60 513.90"/>
<path d="M1230.80 522.50C1238.30 522.50 1240.30 517.40 1243.60 516.40" stroke-width="0.8"/>
<path d="M1230.80 535.20C1238.30 535.20 1239.30 540.90 1243.60 541.90"/>
<path d="M1230.80 533.50C1238.30 533.50 1240.30 538.40 1243.60 539.40" stroke-width="0.8"/>
<rect x="1243.60" y="513.00" width="29.30" height="30.00"/>
<line x1="1243.60" y1="523.10" x2="1272.90" y2="523.10"/>
<line x1="1243.60" y1="532.80" x2="1272.90" y2="532.80"/>
<line x1="1117.50" y1="499.70" x2="1196.30" y2="453.30"/>
<line x1="1117.50" y1="499.70" x2="1196.30" y2="527.70"/>
<path d="M1196.30 453.30 L1316.80 448.40 L1316.80 531.40 L1196.30 527.70"/>
<line x1="1302.30" y1="472.30" x2="1331.20" y2="472.30"/>
<path d="M1316.80 473.00 L1302.30 500.60 L1331.20 500.60 L1316.80 473.00"/>
<line x1="1005.30" y1="499.50" x2="1114.30" y2="410.60"/>
<line x1="1150.00" y1="378.60" x2="1259.60" y2="286.90"/>
<g transform="translate(1132.10 394.90) rotate(-42.30)">
<rect x="-24.50" y="-4.00" width="7.50" height="8.10" fill="#fff"/>
<rect x="17.00" y="-4.00" width="7.50" height="8.10" fill="#fff"/>
<path d="M-9.0 -18.5C-23 -17.5 -31 -9 -23.0 -3.2" stroke-width="1.0"/>
<path d="M-8.5 -15.8C-20 -15 -27 -9 -20.5 -4.2" stroke-width="1.0"/>
<path d="M-8.0 -14.5L-7.2 -32.5L9.8 -32.6L13.4 -14.5" fill="#fff"/>
<rect x="-5.00" y="-30.20" width="12.80" height="13.70" stroke-width="1.0"/>
<line x1="-4.00" y1="-27.60" x2="6.80" y2="-27.60" stroke-width="1.2"/>
<line x1="-4.00" y1="-25.00" x2="6.80" y2="-25.00" stroke-width="1.2"/>
<line x1="-4.00" y1="-22.40" x2="6.80" y2="-22.40" stroke-width="1.2"/>
<line x1="-4.00" y1="-19.80" x2="6.80" y2="-19.80" stroke-width="1.2"/>
<line x1="-2.20" y1="-30.20" x2="-2.20" y2="-16.50" stroke-width="0.7"/>
<line x1="5.00" y1="-30.20" x2="5.00" y2="-16.50" stroke-width="0.7"/>
<rect x="-15.60" y="-14.00" width="31.30" height="18.30" stroke-width="1.6" fill="#fff"/>
<rect x="-11.50" y="-11.00" width="23.50" height="4.00" stroke-width="0.9" fill="#888"/>
<rect x="-11.50" y="-3.40" width="23.50" height="5.20" stroke-width="0.9" fill="#1a1a1a"/>
<line x1="-15.60" y1="4.30" x2="15.70" y2="4.30" stroke-width="2.2"/>
<line x1="15.70" y1="-14.00" x2="15.70" y2="4.30" stroke-width="2.2"/>
</g>
<line x1="1136.50" y1="398.00" x2="1172.50" y2="398.00"/>
<g transform="translate(1300.00 250.00) rotate(-42.00)">
<path d="M-11.3 -11.7H-54.0V11.9H-11.6L-13.3 6.8"/>
<rect x="-49.00" y="-8.50" width="11.50" height="17.30"/>
<line x1="-47.80" y1="-8.50" x2="-47.80" y2="8.80" stroke-width="0.7"/>
<line x1="-37.50" y1="-7.50" x2="-10.50" y2="-7.50"/>
<line x1="-37.50" y1="7.50" x2="-10.50" y2="7.50"/>
<line x1="-47.80" y1="0.10" x2="-10.50" y2="0.10"/>
<circle cx="0.00" cy="0.00" r="15.00" fill="#fff"/>
<circle cx="0.00" cy="0.00" r="10.90"/>
</g>
<line x1="1193.00" y1="672.50" x2="1295.40" y2="640.10"/>
<line x1="1193.00" y1="672.50" x2="1295.40" y2="711.40"/>
<rect x="1295.40" y="626.40" width="43.30" height="27.00"/>
<rect x="1301.30" y="629.40" width="13.40" height="21.20" stroke-width="1.2"/>
<line x1="1313.30" y1="629.40" x2="1313.30" y2="650.60" stroke-width="0.7"/>
<line x1="1301.30" y1="631.90" x2="1334.50" y2="631.90"/>
<line x1="1301.30" y1="640.10" x2="1334.50" y2="640.10"/>
<line x1="1301.30" y1="647.60" x2="1334.50" y2="647.60"/>
<line x1="1334.50" y1="631.90" x2="1334.50" y2="647.60"/>
<path d="M1334.50 631.90 L1346.90 627.90"/>
<path d="M1334.50 647.60 L1346.90 651.90"/>
<circle cx="1351.40" cy="639.90" r="12.70" fill="#fff"/>
<circle cx="1351.40" cy="639.90" r="6.60"/>
<rect x="1295.40" y="698.10" width="43.30" height="27.00"/>
<rect x="1301.30" y="701.10" width="13.40" height="21.20" stroke-width="1.2"/>
<line x1="1313.30" y1="701.10" x2="1313.30" y2="722.30" stroke-width="0.7"/>
<line x1="1301.30" y1="703.60" x2="1334.50" y2="703.60"/>
<line x1="1301.30" y1="711.80" x2="1334.50" y2="711.80"/>
<line x1="1301.30" y1="719.30" x2="1334.50" y2="719.30"/>
<line x1="1334.50" y1="703.60" x2="1334.50" y2="719.30"/>
<path d="M1334.50 703.60 L1346.90 699.60"/>
<path d="M1334.50 719.30 L1346.90 723.60"/>
<circle cx="1351.40" cy="711.60" r="12.70" fill="#fff"/>
<circle cx="1351.40" cy="711.60" r="6.60"/>
<g transform="translate(941.00 673.50) rotate(62.289)">
<path clip-path="url(#c5)" d="M1.48 -5.00L6.28 5.00M9.22 -5.00L14.03 5.00M16.98 -5.00L21.77 5.00M24.73 -5.00L29.52 5.00M32.48 -5.00L37.27 5.00M40.23 -5.00L45.02 5.00M47.98 -5.00L52.77 5.00M55.73 -5.00L60.52 5.00M63.48 -5.00L68.28 5.00M71.22 -5.00L76.03 5.00M78.97 -5.00L83.78 5.00M86.72 -5.00L91.53 5.00M94.47 -5.00L99.28 5.00M102.22 -5.00L107.03 5.00M109.97 -5.00L114.78 5.00M117.72 -5.00L122.53 5.00M125.47 -5.00L130.28 5.00M133.22 -5.00L138.03 5.00M140.97 -5.00L145.78 5.00M148.72 -5.00L153.53 5.00M156.47 -5.00L161.28 5.00M164.22 -5.00L169.03 5.00M171.97 -5.00L176.78 5.00M179.72 -5.00L184.53 5.00M187.47 -5.00L192.28 5.00M195.22 -5.00L200.03 5.00M202.97 -5.00L207.78 5.00M210.72 -5.00L215.53 5.00M218.47 -5.00L223.28 5.00M226.22 -5.00L231.03 5.00M233.97 -5.00L238.78 5.00M241.72 -5.00L246.53 5.00M249.47 -5.00L254.28 5.00M257.23 -5.00L262.02 5.00M264.98 -5.00L269.77 5.00M272.73 -5.00L277.52 5.00M-15.50 -5.00L0.00 5.00M-15.50 5.00L0.00 -5.00M0.00 -5.00L15.50 5.00M0.00 5.00L15.50 -5.00M15.50 -5.00L31.00 5.00M15.50 5.00L31.00 -5.00M31.00 -5.00L46.50 5.00M31.00 5.00L46.50 -5.00M46.50 -5.00L62.00 5.00M46.50 5.00L62.00 -5.00M62.00 -5.00L77.50 5.00M62.00 5.00L77.50 -5.00M77.50 -5.00L93.00 5.00M77.50 5.00L93.00 -5.00M93.00 -5.00L108.50 5.00M93.00 5.00L108.50 -5.00M108.50 -5.00L124.00 5.00M108.50 5.00L124.00 -5.00M124.00 -5.00L139.50 5.00M124.00 5.00L139.50 -5.00M139.50 -5.00L155.00 5.00M139.50 5.00L155.00 -5.00M155.00 -5.00L170.50 5.00M155.00 5.00L170.50 -5.00M170.50 -5.00L186.00 5.00M170.50 5.00L186.00 -5.00M186.00 -5.00L201.50 5.00M186.00 5.00L201.50 -5.00M201.50 -5.00L217.00 5.00M201.50 5.00L217.00 -5.00M217.00 -5.00L232.50 5.00M217.00 5.00L232.50 -5.00M232.50 -5.00L248.00 5.00M232.50 5.00L248.00 -5.00M248.00 -5.00L263.50 5.00M248.00 5.00L263.50 -5.00M263.50 -5.00L279.00 5.00M263.50 5.00L279.00 -5.00M279.00 -5.00L294.50 5.00M279.00 5.00L294.50 -5.00" stroke-width="1.0"/>
<line x1="0.00" y1="-5.00" x2="277.19" y2="-5.00" stroke-width="1.1"/>
<line x1="0.00" y1="5.00" x2="277.19" y2="5.00" stroke-width="1.1"/>
<line x1="0.00" y1="0.00" x2="277.19" y2="0.00"/>
<line x1="277.19" y1="-5.00" x2="277.19" y2="5.00"/>
</g>
<line x1="1071.50" y1="918.80" x2="1147.30" y2="874.50"/>
<line x1="1071.50" y1="918.80" x2="1147.30" y2="963.40"/>
<rect x="1147.30" y="863.20" width="37.20" height="22.80"/>
<rect x="1149.60" y="866.90" width="14.00" height="15.60"/>
<rect x="1163.60" y="867.50" width="19.70" height="14.40" stroke-width="1.2"/>
<line x1="1177.40" y1="867.50" x2="1177.40" y2="881.90" stroke-width="1.2"/>
<line x1="1149.60" y1="874.00" x2="1163.60" y2="874.00" stroke-width="0.7"/>
<line x1="1149.60" y1="875.60" x2="1163.60" y2="875.60" stroke-width="0.7"/>
<path d="M1181.80 867.50C1189.30 867.50 1190.30 861.60 1194.60 860.60"/>
<path d="M1181.80 869.20C1189.30 869.20 1191.30 864.10 1194.60 863.10" stroke-width="0.8"/>
<path d="M1181.80 881.90C1189.30 881.90 1190.30 887.60 1194.60 888.60"/>
<path d="M1181.80 880.20C1189.30 880.20 1191.30 885.10 1194.60 886.10" stroke-width="0.8"/>
<rect x="1194.60" y="859.70" width="29.30" height="30.00"/>
<line x1="1194.60" y1="869.80" x2="1223.90" y2="869.80"/>
<line x1="1194.60" y1="879.50" x2="1223.90" y2="879.50"/>
<rect x="1147.30" y="952.50" width="37.20" height="22.80"/>
<rect x="1149.60" y="956.20" width="14.00" height="15.60"/>
<rect x="1163.60" y="956.80" width="19.70" height="14.40" stroke-width="1.2"/>
<line x1="1177.40" y1="956.80" x2="1177.40" y2="971.20" stroke-width="1.2"/>
<line x1="1149.60" y1="963.30" x2="1163.60" y2="963.30" stroke-width="0.7"/>
<line x1="1149.60" y1="964.90" x2="1163.60" y2="964.90" stroke-width="0.7"/>
<path d="M1181.80 956.80C1189.30 956.80 1190.30 950.90 1194.60 949.90"/>
<path d="M1181.80 958.50C1189.30 958.50 1191.30 953.40 1194.60 952.40" stroke-width="0.8"/>
<path d="M1181.80 971.20C1189.30 971.20 1190.30 976.90 1194.60 977.90"/>
<path d="M1181.80 969.50C1189.30 969.50 1191.30 974.40 1194.60 975.40" stroke-width="0.8"/>
<rect x="1194.60" y="949.00" width="29.30" height="30.00"/>
<line x1="1194.60" y1="959.10" x2="1223.90" y2="959.10"/>
<line x1="1194.60" y1="968.80" x2="1223.90" y2="968.80"/>
<path d="M1147.30 874.50 L1241.40 906.00 L1241.40 936.10 L1147.30 963.40"/>
<line x1="1235.40" y1="918.40" x2="1247.10" y2="918.40"/>
<path d="M1241.40 918.60 L1235.40 925.30 L1247.10 925.30 L1241.40 918.60"/>
<g transform="translate(947.00 672.60) rotate(25.233)">
<line x1="34.00" y1="-5.30" x2="365.47" y2="-5.30"/>
<line x1="4.00" y1="5.30" x2="365.47" y2="5.30"/>
<line x1="0.00" y1="0.00" x2="365.47" y2="0.00"/>
<line x1="365.47" y1="-5.30" x2="365.47" y2="5.30"/>
<path d="M359.27 -5.30L355.87 5.30M343.47 -5.30L340.07 5.30M327.67 -5.30L324.27 5.30M311.87 -5.30L308.47 5.30M296.07 -5.30L292.67 5.30M280.27 -5.30L276.87 5.30M264.47 -5.30L261.07 5.30M248.67 -5.30L245.27 5.30M232.87 -5.30L229.47 5.30M217.07 -5.30L213.67 5.30M201.27 -5.30L197.87 5.30M185.47 -5.30L182.07 5.30M169.67 -5.30L166.27 5.30M153.87 -5.30L150.47 5.30M138.07 -5.30L134.67 5.30M122.27 -5.30L118.87 5.30M106.47 -5.30L103.07 5.30M90.67 -5.30L87.27 5.30M74.87 -5.30L71.47 5.30M59.07 -5.30L55.67 5.30M43.27 -5.30L39.87 5.30M27.47 -5.30L24.07 5.30M315.30 -5.30L343.30 5.30M271.30 -5.30L299.30 5.30M227.30 -5.30L255.30 5.30M183.30 -5.30L211.30 5.30M139.30 -5.30L167.30 5.30M95.30 -5.30L123.30 5.30M51.30 -5.30L79.30 5.30" stroke-width="1.0" clip-path="url(#c6)"/>
</g>
<path d="M1161.23 774.15 L1164.99 786.94 L1170.25 790.70 L1171.76 793.41 L1174.01 790.70 L1176.27 795.66 L1178.83 792.50 L1181.08 797.92 L1183.79 794.01 L1186.35 797.47 L1190.56 800.48 L1200.34 797.02 L1204.10 790.70" stroke-width="1.1"/>
<line x1="1279.10" y1="827.60" x2="1300.50" y2="822.40"/>
<line x1="1279.10" y1="827.60" x2="1300.50" y2="833.40"/>
<path d="M1314.7 820.2H1300.5V836.3H1314.7A8 8.05 0 0 0 1314.7 820.2Z"/>
<line x1="1314.70" y1="820.20" x2="1314.70" y2="836.30"/>
<text transform="translate(23.13 233.00) scale(0.8094 1)" font-size="19.3" stroke="#000" stroke-width="1.2">To Brake</text>
<text transform="translate(53.13 306.00) scale(0.8172 1)" font-size="19.3" stroke="#000" stroke-width="1.2">To Hall</text>
<text transform="translate(400.13 236.00) scale(0.8103 1)" font-size="19.3" stroke="#000" stroke-width="1.2">To Controller</text>
<text transform="translate(734.63 53.00) scale(0.8158 1)" font-size="19.3" stroke="#000" stroke-width="1.2">To Meter back cover</text>
<text transform="translate(841.10 89.00) scale(0.7967 1)" font-size="15.0" stroke="#000" stroke-width="1.2">120Ω</text>
<text transform="translate(916.73 121.00) scale(0.8154 1)" font-size="19.3" stroke="#000" stroke-width="1.2">To Key switches</text>
<text transform="translate(977.13 197.00) scale(0.8141 1)" font-size="19.3" stroke="#000" stroke-width="1.2">To Accelerator</text>
<text transform="translate(862.13 311.00) scale(0.8159 1)" font-size="19.3" stroke="#000" stroke-width="1.2">To Upright walking switch</text>
<text transform="translate(495.13 451.00) scale(0.8185 1)" font-size="19.3" stroke="#000" stroke-width="1.2">To  Wiring Harness-Belly Switch</text>
<text transform="translate(193.88 375.00) scale(0.8174 1)" font-size="19.3" stroke="#000" stroke-width="1.2">To Battery communication cable</text>
<text transform="translate(1026.70 368.00) scale(0.8245 1)" font-size="19.3" stroke="#000" stroke-width="1.2">FUSE 10A</text>
<text transform="translate(1320.20 266.00) scale(0.8180 1)" font-size="19.3" stroke="#000" stroke-width="1.2">Red</text>
<text transform="translate(1326.80 616.00) scale(0.8223 1)" font-size="19.3" stroke="#000" stroke-width="1.2">Red</text>
<text transform="translate(1313.70 750.00) scale(0.8145 1)" font-size="19.3" stroke="#000" stroke-width="1.2">Black</text>
<text transform="translate(861.71 939.00) scale(0.8052 1)" font-size="19.3" stroke="#000" stroke-width="1.2">Black</text>
<text transform="translate(11.88 560.00) scale(0.8152 1)" font-size="19.3" stroke="#000" stroke-width="1.2">To Wire Harness</text>
<text transform="translate(6.38 667.00) scale(0.8155 1)" font-size="19.3" stroke="#000" stroke-width="1.2">To Controller</text>
<text transform="translate(11.38 826.00) scale(0.8128 1)" font-size="19.3" stroke="#000" stroke-width="1.2">To Wire Harness</text>
<text transform="translate(225.88 910.00) scale(0.8154 1)" font-size="19.3" stroke="#000" stroke-width="1.2">To Charger</text>
<text transform="translate(1322.70 832.00) scale(0.8007 1)" font-size="15.0" stroke="#000" stroke-width="1.2">To Light</text>
<text transform="translate(1250.36 920.00) scale(1.0214 1)" font-size="19.3" stroke="#000" stroke-width="1.2">To Horn</text>
<text transform="translate(1252.61 980.00) scale(1.0205 1)" font-size="19.3" stroke="#000" stroke-width="1.15">fig5310007800</text>
<text transform="translate(257.86 264.00) scale(1.0000 1)" font-size="21" font-weight="bold" stroke="none">4</text>
<text transform="translate(584.00 624.00) scale(1.0000 1)" font-size="21" font-weight="bold" stroke="none" clip-path="url(#one)">1</text>
<text transform="translate(842.42 408.00) scale(1.0000 1)" font-size="21" font-weight="bold" stroke="none">2</text>
<text transform="translate(1172.38 405.00) scale(1.0000 1)" font-size="21" font-weight="bold" stroke="none">3</text>
</g>
</svg>
</body>
</html>
